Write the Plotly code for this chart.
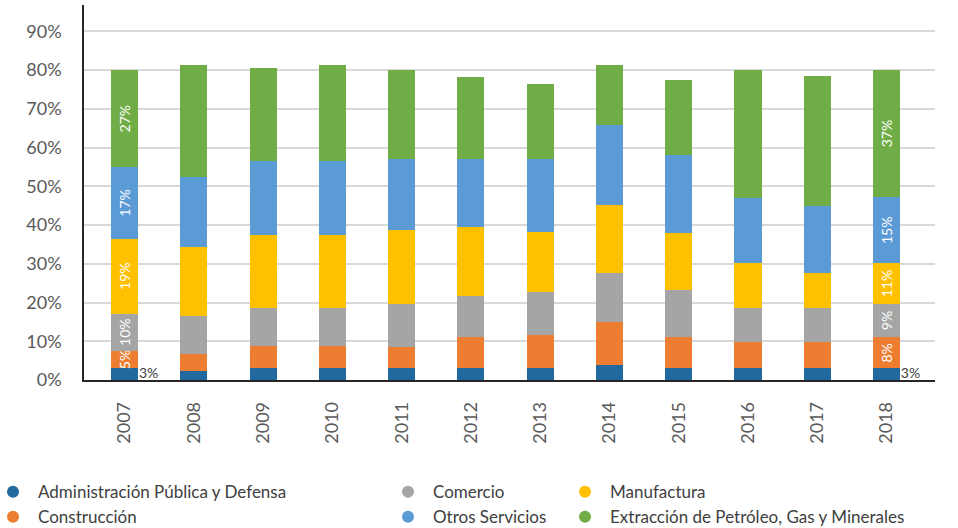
import plotly.graph_objects as go

# years on the x axis
years = ["2007", "2008", "2009", "2010", "2011", "2012",
         "2013", "2014", "2015", "2016", "2017", "2018"]

# share of each sector (%)
admin = [3.0, 2.2, 3.0, 3.0, 3.0, 3.0, 3.0, 4.0, 3.0, 3.0, 3.0, 3.0]
construccion = [4.6, 4.6, 5.9, 5.9, 5.6, 8.0, 8.7, 11.1, 8.2, 6.7, 6.7, 8.0]
comercio = [9.5, 9.6, 9.6, 9.6, 11.1, 10.8, 11.1, 12.5, 12.0, 8.8, 8.8, 8.7]
manufactura = [19.4, 18.0, 19.0, 19.0, 19.1, 17.6, 15.5, 17.7, 14.7, 11.6, 9.2, 10.4]
otros = [18.4, 18.0, 19.1, 19.1, 18.3, 17.7, 18.8, 20.5, 20.3, 17.0, 17.1, 17.1]
extraccion = [25.1, 29.0, 24.0, 24.8, 22.8, 21.2, 19.4, 15.4, 19.3, 32.8, 33.8, 32.8]

# data labels shown only for first and last year
lbl_admin = ["3%"] + [""] * 10 + ["3%"]
lbl_construccion = ["5%"] + [""] * 10 + ["8%"]
lbl_comercio = ["10%"] + [""] * 10 + ["9%"]
lbl_manufactura = ["19%"] + [""] * 10 + ["11%"]
lbl_otros = ["17%"] + [""] * 10 + ["15%"]
lbl_extraccion = ["27%"] + [""] * 10 + ["37%"]

FONT = "Lato"
TXT = "#595959"

series = [
    ("Administración Pública y Defensa", admin, None, "#22699f", "legend"),
    ("Construcción", construccion, lbl_construccion, "#ed7d31", "legend"),
    ("Comercio", comercio, lbl_comercio, "#a5a5a5", "legend2"),
    ("Otros Servicios", otros, lbl_otros, "#5b9bd5", "legend2"),
    ("Manufactura", manufactura, lbl_manufactura, "#ffc000", "legend3"),
    ("Extracción de Petróleo, Gas y Minerales", extraccion, lbl_extraccion, "#70ad47", "legend3"),
]
# stacking order bottom -> top
stack_order = ["Administración Pública y Defensa", "Construcción", "Comercio",
               "Manufactura", "Otros Servicios",
               "Extracción de Petróleo, Gas y Minerales"]
by_name = {s[0]: s for s in series}

fig = go.Figure()
for name in stack_order:
    _, vals, lbls, color, _ = by_name[name]
    fig.add_trace(go.Bar(
        x=years, y=vals, name=name,
        marker=dict(color=color, line=dict(width=0)),
        text=lbls if lbls else None,
        textposition="inside" if lbls else "none",
        textangle=-90, insidetextanchor="middle", constraintext="none",
        textfont=dict(family=FONT, size=14, color="white"),
        showlegend=False,
    ))

# legend entries with round markers, three columns
for name, vals, lbls, color, leg in series:
    fig.add_trace(go.Scatter(
        x=[years[0]], y=[None], mode="markers", name=name,
        marker=dict(symbol="circle", size=10, color=color),
        legend=leg, showlegend=True, hoverinfo="skip",
    ))

# "3%" labels to the right of the bottom segment
idx = [0, len(years) - 1]
fig.add_trace(go.Scatter(
    x=[years[i] for i in idx], y=[admin[i] / 2 for i in idx],
    text=["\u00a0\u00a0\u00a0\u00a0" + lbl_admin[i] for i in idx],
    mode="text", textposition="middle right", cliponaxis=False,
    textfont=dict(family=FONT, size=14, color="#404040"),
    showlegend=False, hoverinfo="skip",
))

leg_common = dict(orientation="v", yanchor="top", y=-0.251,
                  bgcolor="rgba(0,0,0,0)", traceorder="normal",
                  font=dict(family=FONT, size=17, color="#404040"),
                  tracegroupgap=0, itemsizing="constant", itemwidth=40)

fig.update_layout(
    width=958, height=528,
    margin=dict(l=84, r=23, t=5, b=148, autoexpand=False),
    barmode="stack", bargap=0.61,
    plot_bgcolor="white", paper_bgcolor="white",
    font=dict(family=FONT, color=TXT),
    legend=dict(x=(-12 - 84) / 851, **leg_common),
    legend2=dict(x=(383 - 84) / 851, **leg_common),
    legend3=dict(x=(560 - 84) / 851, **leg_common),
    xaxis=dict(
        type="category", range=[-0.587, 11.70], automargin=False,
        tickangle=-90, tickfont=dict(family=FONT, size=18, color=TXT),
        showline=True, linecolor="#262626", linewidth=1.5,
        showgrid=False, ticks="outside", ticklen=13, tickcolor="white",
    ),
    yaxis=dict(
        range=[0, 96.8], dtick=10, ticksuffix="%", automargin=False,
        tickfont=dict(family=FONT, size=18, color=TXT),
        showline=True, linecolor="#262626", linewidth=1.5,
        showgrid=True, gridcolor="#d9d9d9", gridwidth=1.5,
        zeroline=False, ticks="outside", ticklen=17, tickcolor="white",
    ),
)

fig.write_html("out.html", config={"displayModeBar": False},
               post_script="document.body.style.margin='0';")
